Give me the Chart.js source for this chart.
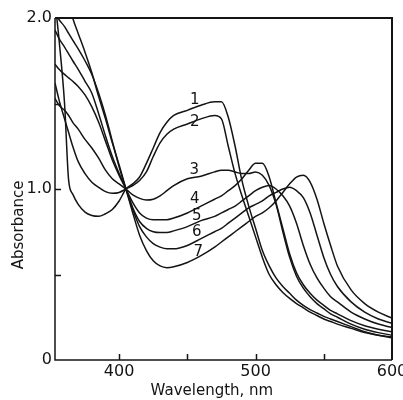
<!DOCTYPE html>
<html lang="en">
<head>
  <meta charset="UTF-8">
  <title>Absorbance spectra</title>
  <script src="https://cdn.jsdelivr.net/npm/chart.js"></script>
  <style>
    html, body { margin: 0; padding: 0; background: #fff; }
    #wrap { width: 403px; height: 400px; }
  </style>
</head>
<body>
<div id="wrap"><canvas id="spectra"></canvas></div>
<script>
// wavelength grid (nm) shared by all seven spectra
const wavelengths = [353, 356, 360, 363, 366, 370, 375, 380, 385, 390, 395, 400, 405,
  410, 415, 420, 425, 430, 435, 440, 450, 460, 470, 475, 480, 485, 490, 495, 500,
  505, 510, 515, 520, 525, 530, 535, 540, 545, 550, 555, 560, 570, 580, 590, 600];

// absorbance, one array per curve
const curve1 = [2.1, 1.87, 1.5, 1.05, 0.97, 0.91, 0.865, 0.845, 0.84, 0.855, 0.88, 0.93, 1.0,
  1.03, 1.07, 1.15, 1.24, 1.33, 1.39, 1.43, 1.46, 1.49, 1.51, 1.51, 1.42, 1.25, 1.05, 0.9, 0.77,
  0.64, 0.55, 0.48, 0.43, 0.39, 0.35, 0.32, 0.295, 0.275, 0.255, 0.24, 0.225, 0.195, 0.165, 0.145, 0.13];
const curve2 = [1.62, 1.52, 1.41, 1.33, 1.25, 1.16, 1.09, 1.04, 1.01, 0.985, 0.975, 0.98, 1.0,
  1.02, 1.05, 1.1, 1.19, 1.27, 1.32, 1.35, 1.38, 1.41, 1.43, 1.41, 1.25, 1.09, 0.96, 0.84, 0.72,
  0.6, 0.5, 0.44, 0.395, 0.36, 0.33, 0.305, 0.28, 0.26, 0.24, 0.225, 0.21, 0.185, 0.16, 0.145, 0.135];
const curve3 = [1.53, 1.49, 1.46, 1.43, 1.39, 1.35, 1.29, 1.24, 1.18, 1.11, 1.06, 1.03, 1.0,
  0.965, 0.945, 0.935, 0.94, 0.96, 0.99, 1.02, 1.06, 1.075, 1.1, 1.11, 1.11, 1.1, 1.09, 1.09, 1.1,
  1.08, 1.02, 0.91, 0.75, 0.6, 0.49, 0.42, 0.37, 0.33, 0.3, 0.27, 0.25, 0.21, 0.18, 0.16, 0.145];
const curve4 = [1.73, 1.7, 1.67, 1.65, 1.63, 1.6, 1.55, 1.48, 1.39, 1.28, 1.17, 1.08, 1.0,
  0.92, 0.86, 0.83, 0.82, 0.82, 0.82, 0.83, 0.86, 0.9, 0.94, 0.96, 0.99, 1.02, 1.06, 1.11, 1.15,
  1.15, 1.07, 0.92, 0.77, 0.62, 0.51, 0.44, 0.39, 0.35, 0.32, 0.29, 0.27, 0.23, 0.2, 0.18, 0.165];
const curve5 = [1.93, 1.88, 1.83, 1.79, 1.75, 1.7, 1.63, 1.56, 1.44, 1.31, 1.19, 1.09, 1.0,
  0.89, 0.81, 0.77, 0.75, 0.745, 0.745, 0.755, 0.78, 0.815, 0.84, 0.86, 0.88, 0.9, 0.93, 0.96, 0.99,
  1.01, 1.02, 1.0, 0.96, 0.9, 0.8, 0.67, 0.56, 0.48, 0.42, 0.37, 0.34, 0.28, 0.24, 0.21, 0.19];
const curve6 = [2.03, 1.99, 1.95, 1.91, 1.87, 1.82, 1.75, 1.67, 1.56, 1.43, 1.28, 1.13, 1.0,
  0.88, 0.78, 0.72, 0.68, 0.66, 0.65, 0.65, 0.67, 0.71, 0.75, 0.77, 0.8, 0.83, 0.86, 0.89, 0.91,
  0.93, 0.96, 0.98, 1.0, 1.01, 0.99, 0.95, 0.86, 0.73, 0.6, 0.5, 0.43, 0.34, 0.28, 0.24, 0.215];
const curve7 = [2.35, 2.27, 2.17, 2.1, 2.0, 1.91, 1.8, 1.68, 1.54, 1.41, 1.27, 1.14, 1.0,
  0.86, 0.73, 0.64, 0.58, 0.55, 0.54, 0.545, 0.57, 0.61, 0.66, 0.69, 0.72, 0.75, 0.78, 0.81, 0.84,
  0.86, 0.89, 0.93, 0.98, 1.03, 1.07, 1.08, 1.04, 0.94, 0.8, 0.67, 0.55, 0.41, 0.33, 0.28, 0.245];

const curves = [curve1, curve2, curve3, curve4, curve5, curve6, curve7];
const curveNames = ['1', '2', '3', '4', '5', '6', '7'];
// where each curve number sits, in data units
const labelWavelength = [455.5, 455.5, 455, 455.5, 457, 457, 458];
const labelAbsorbance = [1.52, 1.39, 1.11, 0.94, 0.84, 0.75, 0.63];

const xTicks = [400, 450, 500, 550, 600];
const xTickText = { 400: '400', 500: '500', 600: '600' };
const yTicks = [0, 0.5, 1, 1.5, 2];
const yTickText = { 0: '0', 1: '1.0', 2: '2.0' };
const xTitle = 'Wavelength, nm';
const yTitle = 'Absorbance';

const ink = '#141414';
const tickFont = { family: 'DejaVu Sans', size: 16 };

// box, inward ticks, curve numbers and axis titles
const decorations = {
  id: 'decorations',
  afterDraw(chart) {
    const { ctx, chartArea: a, scales: { x, y } } = chart;
    ctx.save();
    ctx.strokeStyle = ink;
    ctx.lineWidth = 2;
    ctx.beginPath();
    ctx.moveTo(a.left, a.top); ctx.lineTo(a.right, a.top); ctx.lineTo(a.right, a.bottom);
    ctx.stroke();
    ctx.lineWidth = 1.5;
    ctx.beginPath();
    ctx.moveTo(a.left, a.top); ctx.lineTo(a.left, a.bottom); ctx.lineTo(a.right, a.bottom);
    ctx.stroke();

    ctx.beginPath();
    xTicks.slice(0, -1).forEach(v => {
      const px = Math.round(x.getPixelForValue(v)) + 0.5;
      ctx.moveTo(px, a.bottom); ctx.lineTo(px, a.bottom - 6);
    });
    yTicks.slice(1, -1).forEach(v => {
      const py = Math.round(y.getPixelForValue(v)) + 0.5;
      ctx.moveTo(a.left, py); ctx.lineTo(a.left + 6, py);
    });
    ctx.stroke();

    ctx.fillStyle = ink;
    ctx.font = '15px "DejaVu Sans"';
    ctx.textAlign = 'center';
    ctx.textBaseline = 'middle';
    curveNames.forEach((n, i) => {
      ctx.fillText(n, x.getPixelForValue(labelWavelength[i]), y.getPixelForValue(labelAbsorbance[i]));
    });

    ctx.fillText(xTitle, x.getPixelForValue(468), a.bottom + 31);
    ctx.translate(a.left - 36, y.getPixelForValue(0.79));
    ctx.rotate(-Math.PI / 2);
    ctx.fillText(yTitle, 0, 0);
    ctx.restore();
  }
};

new Chart(document.getElementById('spectra'), {
  type: 'line',
  data: {
    labels: wavelengths,
    datasets: curves.map((c, i) => ({
      label: curveNames[i],
      data: c,
      borderColor: ink,
      borderWidth: 1.5,
      pointRadius: 0,
      fill: false,
      cubicInterpolationMode: 'monotone'
    }))
  },
  options: {
    responsive: true,
    maintainAspectRatio: false,
    animation: false,
    layout: { padding: { top: 18, right: 11, left: 0, bottom: 0 } },
    plugins: { legend: { display: false }, tooltip: { enabled: false } },
    scales: {
      x: {
        type: 'linear',
        min: 353,
        max: 600,
        afterBuildTicks: s => { s.ticks = xTicks.map(v => ({ value: v })); },
        afterFit: s => { s.height = 40; s.paddingLeft = 0; s.paddingRight = 0; },
        ticks: {
          callback: v => xTickText[v] || '',
          font: tickFont, color: ink, padding: 2, maxRotation: 0, autoSkip: false
        },
        grid: { display: false, drawTicks: false },
        border: { display: false }
      },
      y: {
        min: 0,
        max: 2,
        afterBuildTicks: s => { s.ticks = yTicks.map(v => ({ value: v })); },
        afterFit: s => { s.width = 55; s.paddingTop = 0; s.paddingBottom = 0; },
        ticks: {
          callback: v => yTickText[v] || '',
          font: tickFont, color: ink, padding: 3, autoSkip: false
        },
        grid: { display: false, drawTicks: false },
        border: { display: false }
      }
    }
  },
  plugins: [decorations]
});
</script>
</body>
</html>
